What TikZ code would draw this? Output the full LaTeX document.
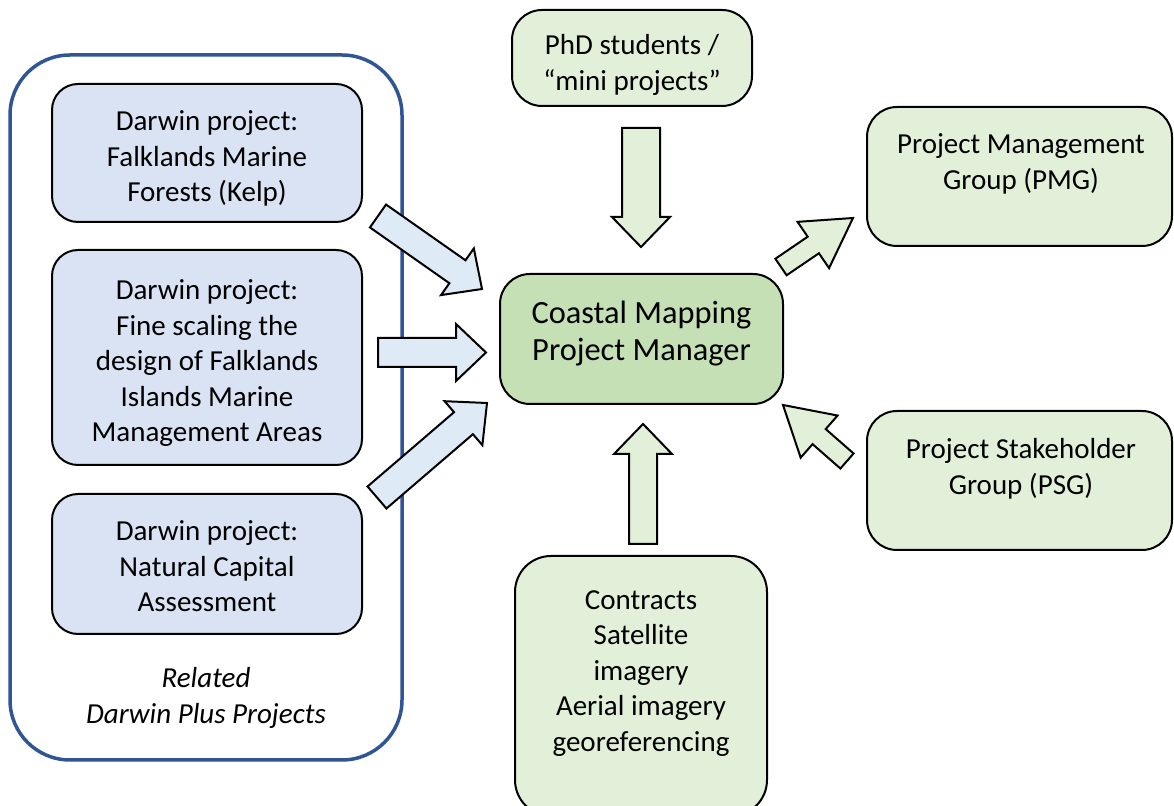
\documentclass[tikz,border=0pt]{standalone}
\usepackage{fontspec}
\setmainfont{Carlito}
\usepackage{tikz}
\usetikzlibrary{calc}

\definecolor{darwinblue}{HTML}{DAE3F3}
\definecolor{framblue}{HTML}{2F5597}
\definecolor{arrowblue}{HTML}{DEEBF7}
\definecolor{palegreen}{HTML}{E2F0D9}
\definecolor{midgreen}{HTML}{C5E0B4}

% block arrow: style, tail, tip, half shaft width, half head width, head length
\newcommand{\blockarrow}[6]{%
  \coordinate (ab) at ($(#3)!#6!(#2)$);
  \draw[#1] ($(#2)!#4!90:(#3)$) -- ($(ab)!#4!90:(#3)$) -- ($(ab)!#5!90:(#3)$)
    -- (#3) -- ($(ab)!#5!-90:(#3)$) -- ($(ab)!#4!-90:(#3)$)
    -- ($(#2)!#4!-90:(#3)$) -- cycle;}

\tikzset{
  txt/.style={font=\fontsize{14.5}{17.75}\selectfont, align=center, inner sep=0pt},
  darwinbox/.style={draw, line width=1pt, fill=darwinblue, rounded corners=13pt},
  greenbox/.style={draw, line width=1pt, fill=palegreen, rounded corners=15pt},
  bluearrow/.style={draw, line width=1pt, fill=arrowblue, line join=miter},
  greenarrow/.style={draw, line width=1pt, fill=palegreen, line join=miter}
}

\begin{document}
\begin{tikzpicture}[x=0.5pt, y=-0.5pt]
\useasboundingbox (0,0) rectangle (1174,806);

% related projects
\node[draw=framblue, line width=1.75pt, rounded corners=30pt, minimum width=196pt, minimum height=352.5pt] (related) at (206,407.5) {};
\node[darwinbox, minimum width=155pt, minimum height=69pt] (kelp) at (207,153) {};
\node[txt] (kelptext) at (207,158.5) {Darwin project:\\Falklands Marine\\Forests (Kelp)};
\node[darwinbox, minimum width=155pt, minimum height=107.5pt] (finescale) at (207,357.5) {};
\node[txt] (finescaletext) at (207,363.5) {Darwin project:\\Fine scaling the\\design of Falklands\\Islands Marine\\Management Areas};
\node[darwinbox, minimum width=155pt, minimum height=70pt] (capital) at (207,564) {};
\node[txt] (capitaltext) at (207,566.5) {Darwin project:\\Natural Capital\\Assessment};
\node[txt, font=\fontsize{14.5}{17.75}\selectfont\itshape] (relatedlabel) at (206,698) {Related\\Darwin Plus Projects};

% manager and groups
\node[greenbox, fill=midgreen, minimum width=141.5pt, minimum height=65pt] (manager) at (641.5,339) {};
\node[txt, font=\fontsize{16.2}{18.5}\selectfont] (managertext) at (641.5,334) {Coastal Mapping\\Project Manager};
\node[greenbox, minimum width=120pt, minimum height=48pt] (phd) at (632,58) {};
\node[txt] (phdtext) at (632,65) {PhD students /\\``mini projects''};
\node[greenbox, minimum width=152.5pt, minimum height=69.5pt] (pmg) at (1019.5,176.5) {};
\node[txt] (pmgtext) at (1021,164) {Project Management\\Group (PMG)};
\node[greenbox, minimum width=152.5pt, minimum height=69.5pt] (psg) at (1019.5,480.5) {};
\node[txt] (psgtext) at (1021,469) {Project Stakeholder\\Group (PSG)};
\node[greenbox, rounded corners=18pt, minimum width=126pt, minimum height=130pt] (contracts) at (641,686) {};
\node[txt] (contractstext) at (641,673.5) {Contracts\\Satellite\\imagery\\Aerial imagery\\georeferencing};

% arrow ends
\coordinate (kelptail) at (378,216);      \coordinate (kelptip) at (482,289);
\coordinate (finetail) at (378,352.5);    \coordinate (finetip) at (486,352.5);
\coordinate (capitaltail) at (377,497.5); \coordinate (capitaltip) at (487,403);
\coordinate (phdtail) at (641,128);       \coordinate (phdtip) at (641,247);
\coordinate (contractstail) at (643,544); \coordinate (contractstip) at (643,424);
\coordinate (pmgtail) at (781,267);       \coordinate (pmgtip) at (853,218);
\coordinate (psgtail) at (847,461);       \coordinate (psgtip) at (783,405);

% arrows
\blockarrow{bluearrow}{kelptail}{kelptip}{7pt}{14.25pt}{15pt}
\blockarrow{bluearrow}{finetail}{finetip}{7.25pt}{14.25pt}{15pt}
\blockarrow{bluearrow}{capitaltail}{capitaltip}{7.25pt}{14.5pt}{15.5pt}
\blockarrow{greenarrow}{phdtail}{phdtip}{9.5pt}{14.5pt}{15pt}
\blockarrow{greenarrow}{contractstail}{contractstip}{7pt}{14.5pt}{15pt}
\blockarrow{greenarrow}{pmgtail}{pmgtip}{5pt}{14pt}{24pt}
\blockarrow{greenarrow}{psgtail}{psgtip}{5pt}{14pt}{24pt}
\end{tikzpicture}
\end{document}
